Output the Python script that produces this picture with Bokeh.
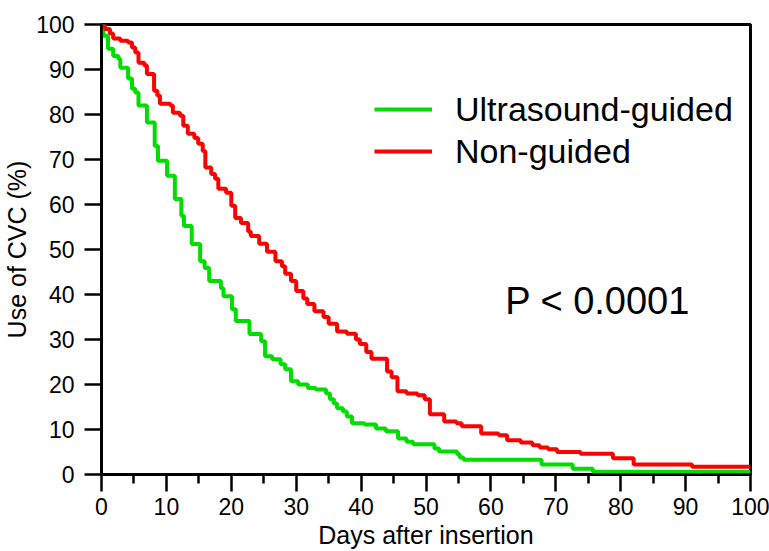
from bokeh.plotting import figure
from bokeh.models import Range1d, FixedTicker, Label, Legend, LegendItem
from bokeh.embed import file_html
from bokeh.resources import INLINE

# ---- data ----
series_names = ["Ultrasound-guided", "Non-guided"]

days_us = [0, 0.3, 1.0, 1.8, 2.6, 2.9, 4.1, 4.7, 5.2, 5.7, 7.0, 8.2, 8.7, 10.1, 11.3,
           12.3, 12.7, 13.9, 15.2, 15.9, 16.6, 18.4, 18.8, 20.1, 20.7, 22.8, 24.6,
           25.2, 26.3, 27.6, 28.3, 29.2, 30.3, 31.8, 33.0, 34.6, 35.2, 35.8, 36.3,
           37.2, 37.8, 38.6, 40.5, 42.3, 43.8, 45.7, 47.0, 48.0, 51.3, 52.0, 54.8,
           55.2, 55.8, 67.8, 72.6, 75.7, 100]
surv_us = [100, 97.5, 94.6, 93.0, 92.4, 90.4, 88.0, 85.7, 84.9, 82.0, 78.2, 73.0, 69.7,
           66.4, 61.2, 57.5, 55.2, 51.2, 47.4, 45.9, 43.0, 41.4, 39.6, 36.7, 34.1,
           31.2, 29.6, 26.3, 25.6, 24.5, 23.4, 20.7, 20.0, 19.2, 18.9, 18.0, 16.7,
           15.8, 14.7, 14.0, 12.9, 11.4, 11.1, 10.2, 9.6, 8.0, 7.3, 6.7, 5.8, 5.1,
           4.5, 3.8, 3.3, 2.2, 1.3, 0.6, 0.6]

days_ng = [0, 0.5, 1.3, 1.8, 2.9, 4.1, 4.7, 5.2, 5.7, 6.6, 7.0, 8.1, 8.6, 9.0, 10.6,
           11.0, 12.1, 12.6, 13.3, 14.3, 14.9, 15.6, 16.0, 16.9, 17.5, 18.0, 19.2,
           20.0, 20.6, 21.5, 22.6, 23.0, 24.3, 25.5, 26.8, 27.8, 28.3, 29.2, 30.0,
           31.1, 31.7, 32.8, 34.2, 35.0, 36.3, 37.8, 39.2, 39.8, 40.8, 41.6, 44.0,
           44.7, 45.6, 47.0, 48.7, 49.8, 50.6, 52.8, 54.7, 55.5, 58.5, 61.2, 62.5,
           64.6, 66.4, 67.5, 68.8, 70.2, 73.8, 78.8, 82.0, 91.0, 100]
surv_ng = [100, 99.0, 98.0, 96.9, 96.4, 96.0, 94.9, 93.8, 91.5, 90.9, 89.0, 85.3, 84.2,
           82.4, 82.0, 80.4, 79.7, 77.5, 75.7, 74.8, 73.5, 71.9, 68.2, 66.8, 65.7,
           63.5, 62.6, 59.7, 57.0, 55.9, 54.0, 53.0, 51.3, 49.5, 47.4, 46.3, 44.6,
           43.0, 40.8, 39.1, 37.9, 36.3, 35.0, 33.5, 31.8, 31.3, 30.0, 29.0, 27.2,
           25.7, 22.9, 21.6, 18.5, 18.0, 17.6, 16.7, 13.4, 11.8, 11.4, 10.7, 9.1,
           8.7, 7.6, 7.1, 6.5, 6.0, 5.6, 5.0, 4.6, 3.6, 2.2, 1.7, 1.7]

x_ticks = [0, 10, 20, 30, 40, 50, 60, 70, 80, 90, 100]
x_minor_ticks = [5, 15, 25, 35, 45, 55, 65, 75, 85, 95]
y_ticks = [0, 10, 20, 30, 40, 50, 60, 70, 80, 90, 100]

x_label = "Days after insertion"
y_label = "Use of CVC (%)"
p_value_text = "P < 0.0001"

# ---- styling ----
FONT = "Liberation Sans"
GREEN = "#00dd00"
RED = "#ff0000"

p = figure(width=769, height=551,
           x_range=Range1d(0, 100), y_range=Range1d(0, 100),
           output_backend="svg", toolbar_location=None,
           min_border_left=101, min_border_right=19,
           min_border_top=24, min_border_bottom=77)
p.xgrid.visible = False
p.ygrid.visible = False
p.outline_line_color = "black"
p.outline_line_width = 3
p.outline_line_alpha = 1.0
p.background_fill_color = "white"
p.border_fill_color = "white"

r_us = p.step(days_us, surv_us, mode="after", line_width=4, line_color=GREEN)
r_ng = p.step(days_ng, surv_ng, mode="after", line_width=4, line_color=RED)

for ax in (p.xaxis[0], p.yaxis[0]):
    ax.axis_line_width = 2.5
    ax.axis_line_color = "black"
    ax.major_tick_in = 0
    ax.major_tick_out = 17
    ax.major_tick_line_width = 2.5
    ax.major_tick_line_color = "black"
    ax.major_label_text_font = FONT
    ax.major_label_text_font_size = "23px"
    ax.major_label_text_color = "black"
    ax.axis_label_text_font = FONT
    ax.axis_label_text_font_size = "25px"
    ax.axis_label_text_font_style = "normal"
    ax.axis_label_text_color = "black"

p.xaxis[0].ticker = FixedTicker(ticks=x_ticks, minor_ticks=x_minor_ticks)
p.xaxis[0].minor_tick_in = 0
p.xaxis[0].minor_tick_out = 9
p.xaxis[0].minor_tick_line_width = 2.5
p.xaxis[0].minor_tick_line_color = "black"
p.xaxis[0].major_label_standoff = 6
p.xaxis[0].axis_label = x_label
p.xaxis[0].axis_label_standoff = 3

p.yaxis[0].ticker = FixedTicker(ticks=y_ticks)
p.yaxis[0].minor_tick_line_color = None
p.yaxis[0].major_label_standoff = 10
p.yaxis[0].axis_label = y_label
p.yaxis[0].axis_label_standoff = 2

legend = Legend(
    items=[LegendItem(label=series_names[0], renderers=[r_us]),
           LegendItem(label=series_names[1], renderers=[r_ng])],
    location=(273, 302), orientation="vertical",
    glyph_width=58, glyph_height=42, label_height=42, spacing=0,
    padding=0, margin=0, label_standoff=23,
    label_text_font=FONT, label_text_font_size="34px", label_text_color="black",
    border_line_color=None, background_fill_alpha=0)
p.add_layout(legend)

p.add_layout(Label(x=62.2, y=38.5, text=p_value_text, text_font=FONT,
                   text_font_size="38px", text_align="left",
                   text_baseline="alphabetic", text_color="black"))

open("out.html", "w").write(file_html(p, INLINE))
